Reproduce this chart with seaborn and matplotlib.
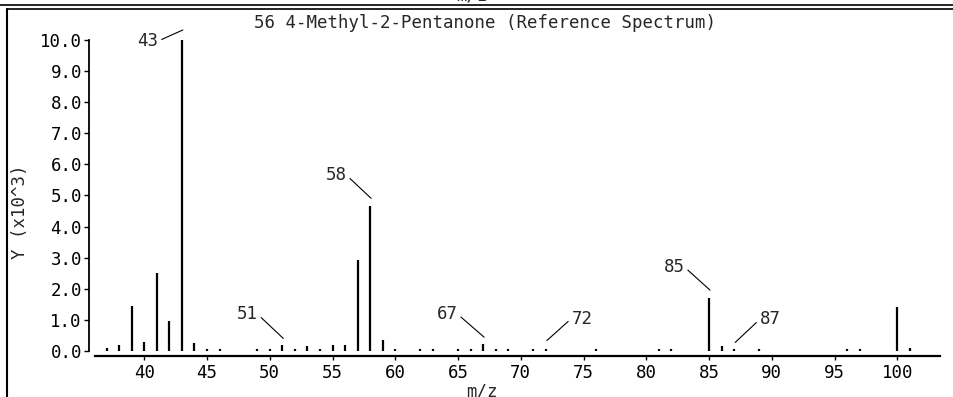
import pandas as pd
import seaborn as sns
import matplotlib.pyplot as plt
from matplotlib.lines import Line2D
from matplotlib.transforms import offset_copy

TITLE = "56 4-Methyl-2-Pentanone (Reference Spectrum)"

# m/z and abundance (Y, x10^3)
mz = [37, 38, 39, 40, 41, 42, 43, 44, 45, 46, 49, 50, 51, 52, 53, 54, 55, 56,
      57, 58, 59, 60, 62, 63, 65, 66, 67, 68, 69, 71, 72, 76, 81, 82, 85, 86,
      87, 89, 96, 97, 100, 101]
abund = [0.10, 0.20, 1.45, 0.28, 2.50, 0.95, 10.0, 0.27, 0.08, 0.05, 0.05,
         0.07, 0.18, 0.05, 0.15, 0.05, 0.20, 0.20, 2.93, 4.65, 0.35, 0.05,
         0.07, 0.05, 0.07, 0.05, 0.22, 0.07, 0.07, 0.05, 0.08, 0.05, 0.05,
         0.05, 1.70, 0.15, 0.05, 0.05, 0.05, 0.05, 1.42, 0.10]

label_mz = [43, 51, 58, 67, 72, 85, 87]

y_ticks = [0, 1, 2, 3, 4, 5, 6, 7, 8, 9, 10]
y_tick_labels = ["0.0", "1.0", "2.0", "3.0", "4.0", "5.0", "6.0", "7.0",
                 "8.0", "9.0", "10.0"]
x_ticks = [40, 45, 50, 55, 60, 65, 70, 75, 80, 85, 90, 95, 100]
x_tick_labels = ["40", "45", "50", "55", "60", "65", "70", "75", "80", "85",
                 "90", "95", "100"]


def main():
    sns.set_style("white")
    plt.rcParams["font.family"] = ["DejaVu Sans Mono", "DejaVu Sans"]
    plt.rcParams["font.size"] = 12.5

    W, H = 954, 397
    fig = plt.figure(figsize=(W / 100, H / 100), dpi=100)
    # axes box in pixels: y spine at x=89, right end 940, baseline 356, top 30
    ax = fig.add_axes([89 / W, (H - 356) / H, (940 - 89) / W, (356 - 30) / H])

    # stick spectrum: each peak is a vertical segment from 0 to its height
    rows = []
    for m, a in zip(mz, abund):
        rows.append({"mz": m, "y": 0.0, "peak": m})
        rows.append({"mz": m, "y": a, "peak": m})
    df = pd.DataFrame(rows)

    sns.lineplot(data=df, x="mz", y="y", units="peak", estimator=None,
                 sort=False, color="black", lw=1.6, solid_capstyle="butt",
                 legend=False, ax=ax)

    ax.set_xlim(35.6, 103.4)
    ax.set_ylim(-0.16, 10.32)

    for side in ["top", "right"]:
        ax.spines[side].set_visible(False)
    ax.spines["left"].set_bounds(0, 10)
    ax.spines["left"].set_linewidth(1.3)
    ax.spines["bottom"].set_bounds(36.1, 103.4)
    ax.spines["bottom"].set_linewidth(1.6)
    for side in ["left", "bottom"]:
        ax.spines[side].set_color("black")

    ax.set_xticks(x_ticks)
    ax.set_xticklabels(x_tick_labels)
    ax.set_yticks(y_ticks)
    ax.set_yticklabels(y_tick_labels)
    ax.tick_params(axis="x", direction="out", length=3, width=1, pad=3,
                   colors="black", bottom=True)
    ax.tick_params(axis="y", direction="out", length=3.6, width=1, pad=1.5,
                   colors="black", left=True)

    ax.set_xlabel("m/z", va="center")
    ax.xaxis.set_label_coords((482 - 89) / 851, (356 - 392) / 326)
    ax.set_ylabel("Y (x10^3)", va="center")
    ax.yaxis.set_label_coords((20 - 89) / 851, (356 - 212) / 326)

    # peak labels with leader lines (offsets in pixels)
    label_offsets = {
        43: (1, 10, -35, -11),
        51: (1, 7, -36, 24),
        58: (1, 8, -35, 23),
        67: (1, 7, -37, 23),
        72: (1, 8, 35, 22),
        85: (1, 8, -36, 23),
        87: (1, 7, 35, 23),
    }
    for m in label_mz:
        h = abund[mz.index(m)]
        dxe, dye, dxt, dyt = label_offsets[m]
        tr = offset_copy(ax.transData, fig=fig, x=dxe, y=dye, units="dots")
        ax.annotate(str(m), xy=(m, h), xycoords=tr, xytext=(dxt, dyt),
                    textcoords="offset pixels", ha="center", va="center",
                    annotation_clip=False,
                    arrowprops=dict(arrowstyle="-", lw=0.8, color="black",
                                    shrinkA=0, shrinkB=0,
                                    relpos=(1, 0.5) if dxt < 0 else (0, 0.5)))

    fig.text(485 / W, 1 - 28 / H, TITLE, ha="center", va="baseline")

    # remains of the panel above and the frame of this panel
    fig.text(472 / W, 1 + 4 / H, "m/z", ha="center", va="center")
    fig.add_artist(Line2D([0, 1], [1 - 4.5 / H, 1 - 4.5 / H], lw=1.2,
                          color="black", transform=fig.transFigure))
    fig.add_artist(Line2D([7 / W, 1], [1 - 9 / H, 1 - 9 / H], lw=1.2,
                          color="black", transform=fig.transFigure))
    fig.add_artist(Line2D([7 / W, 7 / W], [0, 1 - 9 / H], lw=1.5,
                          color="black", transform=fig.transFigure))

    fig.savefig("out.png", dpi=100)


if __name__ == "__main__":
    main()
